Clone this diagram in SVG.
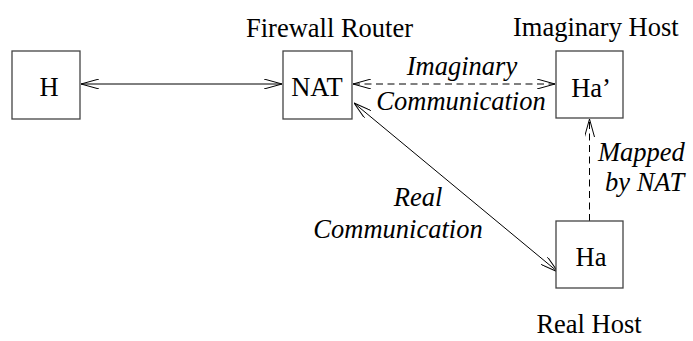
<svg xmlns="http://www.w3.org/2000/svg" width="693" height="341" viewBox="0 0 693 341">
<style>
.box{fill:#fff;stroke:#444;stroke-width:1.3}
.t{font-family:"Liberation Serif",serif;font-size:26.5px;fill:#000}
.i{font-style:italic}
.c{stroke:#000;stroke-width:1;fill:none}
.d{stroke-dasharray:7,4.5}
</style>
<defs>
<marker id="a" viewBox="0 0 18 10" refX="18" refY="5" markerWidth="18" markerHeight="10" markerUnits="userSpaceOnUse" orient="auto-start-reverse">
<path d="M0,0 L18,5 L0,10" fill="none" stroke="#000" stroke-width="1"/>
</marker>
</defs>
<rect width="693" height="341" fill="#fff"/>
<g id="connectors">
<line class="c" x1="81" y1="84" x2="282" y2="84" marker-start="url(#a)" marker-end="url(#a)"/>
<line class="c d" x1="353" y1="84" x2="555" y2="84" marker-start="url(#a)" marker-end="url(#a)"/>
<line class="c" x1="354" y1="103" x2="558" y2="272" marker-start="url(#a)" marker-end="url(#a)"/>
<line class="c d" x1="589.5" y1="221" x2="589.5" y2="119" marker-end="url(#a)"/>
</g>
<g id="H"><rect class="box" x="12" y="51" width="68" height="68"/><text class="t" x="49" y="96" text-anchor="middle">H</text></g>
<g id="NAT"><rect class="box" x="283" y="51" width="69" height="68"/><text class="t" x="317" y="96" text-anchor="middle">NAT</text><text class="t" x="246" y="37">Firewall Router</text></g>
<g id="Ha2"><rect class="box" x="556" y="51" width="67" height="67"/><text class="t" x="591" y="97" text-anchor="middle">Ha’</text><text class="t" x="513" y="36">Imaginary Host</text></g>
<g id="Ha"><rect class="box" x="556" y="221" width="67" height="67"/><text class="t" x="591" y="266" text-anchor="middle">Ha</text><text class="t" x="589" y="333" text-anchor="middle">Real Host</text></g>
<g id="labels">
<text class="t i" x="462" y="75" text-anchor="middle">Imaginary</text>
<text class="t i" x="461" y="110" text-anchor="middle">Communication</text>
<text class="t i" x="598" y="161">Mapped</text>
<text class="t i" x="605" y="191">by NAT</text>
<text class="t i" x="418" y="206" text-anchor="middle">Real</text>
<text class="t i" x="398" y="238" text-anchor="middle">Communication</text>
</g>
</svg>
